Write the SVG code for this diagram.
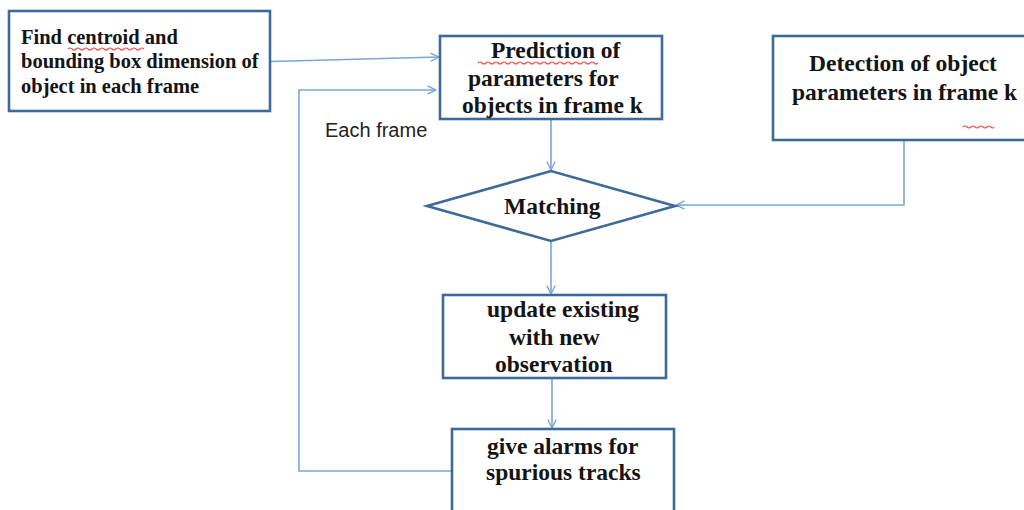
<svg xmlns="http://www.w3.org/2000/svg" width="1024" height="510" viewBox="0 0 1024 510">
  <style>
    .box { fill: #ffffff; stroke: #3d6a98; stroke-width: 2.6; }
    .wire { fill: none; stroke: #7aa6d9; stroke-width: 1.6; }
    .lbl { font-family: "Liberation Serif", "Times New Roman", serif; font-weight: bold; font-size: 23.5px; fill: #141414; }
    .small { font-size: 20.5px; }
    .note { font-family: "Liberation Sans", Arial, sans-serif; font-size: 20px; fill: #222222; }
    .squig { fill: none; stroke: #f04848; stroke-width: 1.1; }
  </style>
  <defs>
    <marker id="arrow" viewBox="0 0 10 10" refX="9.5" refY="5" markerWidth="10" markerHeight="10" markerUnits="userSpaceOnUse" orient="auto">
      <path d="M1,0.8 L9.5,5 L1,9.2" fill="none" stroke="#7aa6d9" stroke-width="1.4"/>
    </marker>
  </defs>

  <rect width="1024" height="510" fill="#ffffff"/>

  <!-- connectors -->
  <g id="connectors">
    <path class="wire" d="M271,61.5 L439,57" marker-end="url(#arrow)"/>
    <path class="wire" d="M452,471 L299,471 L299,90 L436,90" marker-end="url(#arrow)"/>
    <path class="wire" d="M551,119 L551,170" marker-end="url(#arrow)"/>
    <path class="wire" d="M904,140 L904,205 L676,205" marker-end="url(#arrow)"/>
    <path class="wire" d="M551,241 L551,294" marker-end="url(#arrow)"/>
    <path class="wire" d="M552,378 L552,428" marker-end="url(#arrow)"/>
  </g>

  <!-- input: centroid and bounding box -->
  <g id="find-centroid">
    <rect class="box" x="9" y="11" width="261" height="100"/>
    <text class="lbl small" x="21" y="44">Find centroid and</text>
    <text class="lbl small" x="21" y="68">bounding box dimension of</text>
    <text class="lbl small" x="21" y="93">object in each frame</text>
    <path class="squig" d="M68,49 q2,-2 4,0 t4,0 t4,0 t4,0 t4,0 t4,0 t4,0 t4,0 t4,0 t4,0 t4,0 t4,0 t4,0 t4,0 t4,0 t4,0 t4,0 t4,0 t4,0"/>
  </g>

  <!-- prediction step -->
  <g id="prediction">
    <rect class="box" x="440" y="36" width="222" height="83"/>
    <text class="lbl" x="491" y="58">Prediction of</text>
    <text class="lbl" x="468" y="86">parameters for</text>
    <text class="lbl" x="462" y="113">objects in frame k</text>
    <path class="squig" d="M478,63 q2,-2 4,0 t4,0 t4,0 t4,0 t4,0 t4,0 t4,0 t4,0 t4,0 t4,0 t4,0 t4,0 t4,0 t4,0 t4,0 t4,0 t4,0 t4,0 t4,0 t4,0 t4,0 t4,0 t4,0 t4,0 t4,0 t4,0 t4,0 t4,0 t4,0 t4,0"/>
  </g>

  <!-- detection step -->
  <g id="detection">
    <rect class="box" x="773" y="36" width="260" height="104"/>
    <text class="lbl" x="809" y="71">Detection of object</text>
    <text class="lbl" x="792" y="100">parameters in frame k</text>
    <path class="squig" d="M963,127 q2,-2 4,0 t4,0 t4,0 t4,0 t4,0 t4,0 t4,0 t3,0"/>
  </g>

  <!-- matching decision -->
  <g id="matching">
    <polygon points="427,206 551,171 675,206 551,241" fill="#ffffff" stroke="#3d6a98" stroke-width="2.6"/>
    <text class="lbl" x="504" y="214">Matching</text>
  </g>

  <!-- update step -->
  <g id="update">
    <rect class="box" x="443" y="295" width="223" height="83"/>
    <text class="lbl" x="487" y="317">update existing</text>
    <text class="lbl" x="509" y="345">with new</text>
    <text class="lbl" x="495" y="372">observation</text>
  </g>

  <!-- alarm step -->
  <g id="alarms">
    <rect class="box" x="452" y="429" width="222" height="90"/>
    <text class="lbl" x="487" y="454">give alarms for</text>
    <text class="lbl" x="486" y="480">spurious tracks</text>
  </g>

  <!-- loop label -->
  <g id="each-frame">
    <text class="note" x="325" y="137">Each frame</text>
  </g>
</svg>
